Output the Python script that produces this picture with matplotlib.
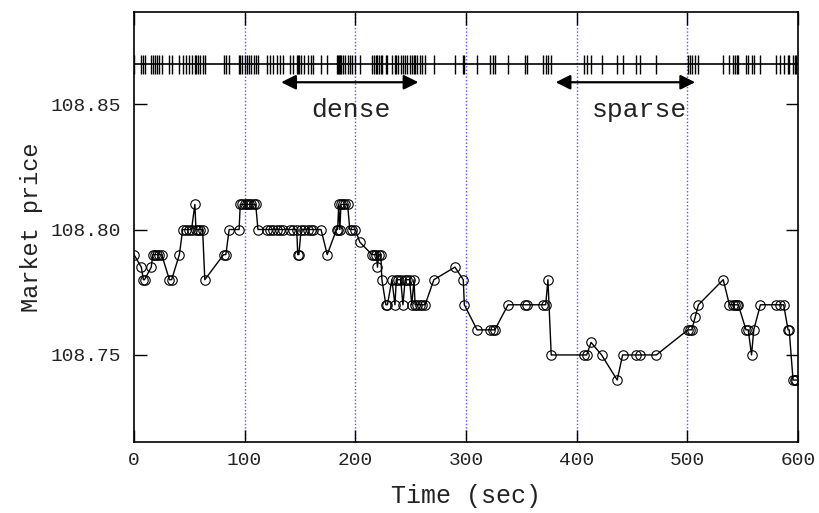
import numpy as np
import matplotlib.pyplot as plt

# trade times (sec) and prices
times = [0, 6.6, 8.5, 9.5, 15.6, 17, 19, 21, 23, 25, 32, 34, 41,
         44, 47, 50, 52, 55, 56, 58, 60, 62, 64, 81, 83, 86, 95,
         96, 98, 100, 102, 104, 106, 108, 110, 112, 120, 123, 126, 129,
         132, 135, 141, 144, 147, 148, 149, 151, 154, 157, 160, 162,
         169, 174.6, 183, 184, 185, 186, 187, 189, 191, 193, 195, 197,
         200, 204, 215, 217, 219, 220, 221, 223, 224, 227.6, 229, 233,
         235.8, 237, 239, 241, 243, 245, 247, 249, 251, 253, 254, 256,
         258, 260, 263, 271, 290, 297.5, 298.5, 310, 322, 324, 326, 338,
         353, 355, 370, 372, 374, 377, 407, 409, 413, 422.5, 436.6,
         441.5, 454, 457, 472, 500.5, 502, 504, 507, 510, 532.4, 538,
         541, 543, 545, 546, 553, 555, 558, 560, 566, 580, 584, 587,
         591, 592, 595.5, 597, 598.5]
prices = [108.79, 108.785, 108.78, 108.78, 108.785, 108.79, 108.79, 108.79,
          108.79, 108.79, 108.78, 108.78, 108.79,
          108.80, 108.80, 108.80, 108.80, 108.81, 108.80, 108.80, 108.80,
          108.80, 108.78, 108.79, 108.79, 108.80, 108.80,
          108.81, 108.81, 108.81, 108.81, 108.81, 108.81, 108.81, 108.81,
          108.80, 108.80, 108.80, 108.80, 108.80,
          108.80, 108.80, 108.80, 108.80, 108.80, 108.79, 108.79, 108.80,
          108.80, 108.80, 108.80, 108.80,
          108.80, 108.79, 108.80, 108.80, 108.81, 108.80, 108.81, 108.81,
          108.81, 108.81, 108.80, 108.80,
          108.80, 108.795, 108.79, 108.79, 108.79, 108.785, 108.79, 108.79,
          108.78, 108.77, 108.77, 108.78,
          108.77, 108.78, 108.78, 108.78, 108.77, 108.78, 108.78, 108.78,
          108.77, 108.78, 108.77, 108.77,
          108.77, 108.77, 108.77, 108.78, 108.785, 108.78, 108.77, 108.76,
          108.76, 108.76, 108.76, 108.77,
          108.77, 108.77, 108.77, 108.77, 108.78, 108.75, 108.75, 108.75,
          108.755, 108.75, 108.74,
          108.75, 108.75, 108.75, 108.75, 108.76, 108.76, 108.76, 108.765,
          108.77, 108.78, 108.77,
          108.77, 108.77, 108.77, 108.77, 108.76, 108.76, 108.75, 108.76,
          108.77, 108.77, 108.77, 108.77,
          108.76, 108.76, 108.74, 108.74, 108.74]

guide_x = [100, 200, 300, 400, 500]
xticks = [0, 100, 200, 300, 400, 500, 600]
yticks = [108.75, 108.80, 108.85]

plt.rcParams['font.family'] = 'Liberation Mono'
txt_col = '#222222'

fig = plt.figure(figsize=(8.19, 5.13), dpi=100)
ax = fig.add_axes([0.1636, 0.1384, 0.8108, 0.8382])

for gx in guide_x:
    ax.axvline(gx, color='#5555ff', ls=(0, (1, 1.5)), lw=1.0, zorder=1)

ax.plot(times, prices, '-o', color='black', lw=1.0, ms=6.8,
        mfc='none', mec='black', mew=0.8, zorder=3)

# rug of trade times
rug_y = 108.8658
ax.axhline(rug_y, color='black', lw=1.2)
ax.vlines(times, rug_y - 0.0039, rug_y + 0.0039, color='black', lw=1.0)

# dense / sparse arrows
arr_y = 108.8587
ax.annotate('', xy=(133, arr_y), xytext=(257, arr_y),
            arrowprops=dict(arrowstyle='<|-|>', color='black', lw=1.6,
                            mutation_scale=22, shrinkA=0, shrinkB=0))
ax.annotate('', xy=(381, arr_y), xytext=(507, arr_y),
            arrowprops=dict(arrowstyle='<|-|>', color='black', lw=1.6,
                            mutation_scale=22, shrinkA=0, shrinkB=0))
ax.text(196, 108.8476, 'dense', ha='center', va='center', fontsize=19,
        color=txt_col)
ax.text(457, 108.8476, 'sparse', ha='center', va='center', fontsize=19,
        color=txt_col)

ax.set_xlim(0, 600)
ax.set_ylim(108.7153, 108.8867)
ax.set_xticks(xticks)
ax.set_yticks(yticks)
ax.set_yticklabels(['%.2f' % v for v in yticks])
ax.tick_params(direction='in', length=9, width=1, labelsize=14,
               top=True, right=True, labelcolor=txt_col)
ax.tick_params(axis='y', pad=9)
ax.tick_params(axis='x', pad=7)
for s in ax.spines.values():
    s.set_linewidth(1.2)

ax.set_xlabel('Time (sec)', fontsize=18, color=txt_col, labelpad=11)
ax.set_ylabel('Market price', fontsize=17, color=txt_col, labelpad=6)

fig.savefig('out.png', dpi=100)
